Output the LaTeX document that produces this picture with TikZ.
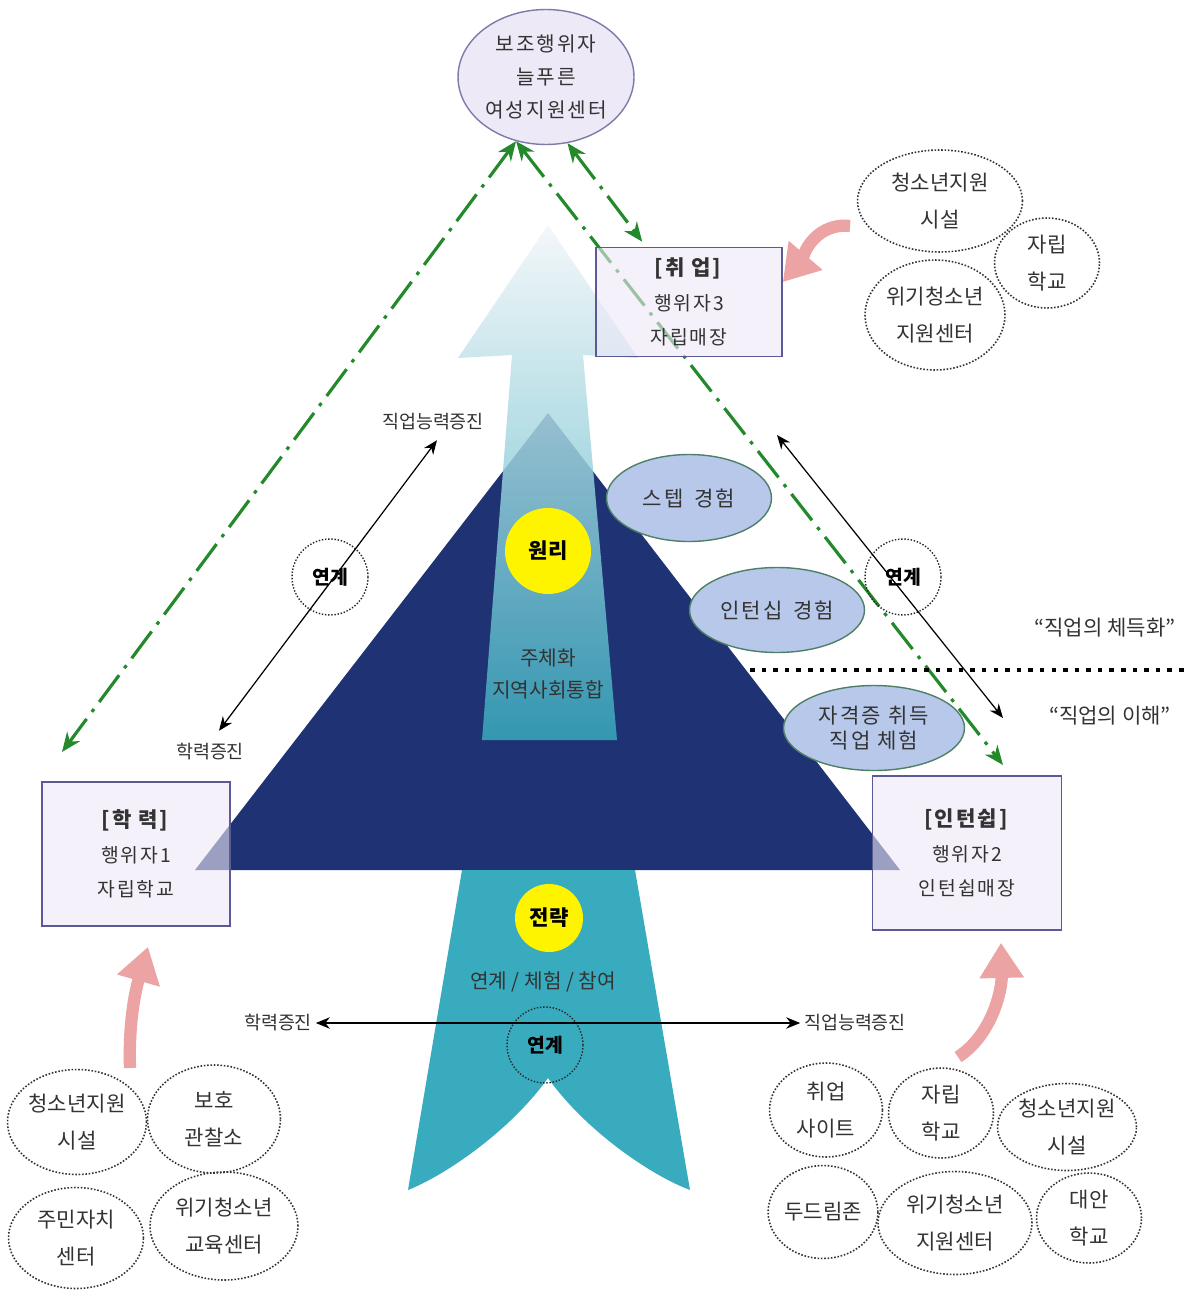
\documentclass[tikz,border=0pt]{standalone}
\usepackage{fontspec}
\setmainfont{Noto Sans CJK KR}
\newfontfamily\spaced[LetterSpace=10]{Noto Sans CJK KR}
\usetikzlibrary{arrows.meta,calc,shapes.geometric}
\definecolor{TriNavy}{HTML}{1F3374}
\definecolor{TailTeal}{HTML}{39ABBE}
\definecolor{ColTop}{HTML}{F2F6F9}
\definecolor{ColMid}{HTML}{9ACEDC}
\definecolor{BoxFill}{HTML}{EEE9F7}
\definecolor{BoxLine}{HTML}{5B5A94}
\definecolor{StepFill}{HTML}{B7C8EA}
\definecolor{StepLine}{HTML}{4E8068}
\definecolor{CoreYellow}{HTML}{FFF400}
\definecolor{LinkGreen}{HTML}{23892B}
\definecolor{PinkArrow}{HTML}{EBA3A3}
\definecolor{TextGray}{HTML}{333333}
\pgfdeclarelayer{shapes}
\pgfdeclarelayer{links}
\pgfsetlayers{shapes,links,main}
\tikzset{
  actor box/.style={
    draw=BoxLine,
    fill=BoxFill,
    fill opacity=0.6,
    text opacity=1,
    line width=0.9pt,
    align=center,
    font=\spaced\fontsize{11}{19.5}\selectfont,
    text=TextGray,
    inner sep=0pt
  },
  aux node/.style={
    ellipse,
    draw=BoxLine!80,
    fill=BoxFill,
    line width=0.8pt,
    align=center,
    font=\spaced\fontsize{11.5}{19}\selectfont,
    text=TextGray,
    inner sep=0pt,
    minimum width=3.52cm,
    minimum height=2.7cm
  },
  step node/.style={
    ellipse,
    draw=StepLine,
    fill=StepFill,
    line width=0.8pt,
    align=center,
    font=\spaced\fontsize{12}{14}\selectfont,
    text=TextGray,
    inner sep=0pt
  },
  org node/.style={
    ellipse,
    draw=black!80,
    densely dotted,
    line width=0.9pt,
    align=center,
    font=\fontsize{12}{21}\selectfont,
    text=TextGray,
    inner sep=0pt
  },
  link node/.style={
    circle,
    draw=black!85,
    densely dotted,
    line width=0.8pt,
    minimum size=1.52cm,
    inner sep=0pt,
    font=\bfseries\fontsize{11}{12}\selectfont
  },
  core node/.style={
    circle,
    fill=CoreYellow,
    inner sep=0pt,
    font=\bfseries\fontsize{12}{13}\selectfont
  },
  gain label/.style={
    font=\fontsize{10.5}{12}\selectfont,
    text=TextGray,
    inner sep=2pt
  },
  gain arrow/.style={
    {Stealth[length=8pt,width=6.5pt]}-{Stealth[length=8pt,width=6.5pt]},
    line width=0.7pt
  },
  green link/.style={
    {Stealth[length=11pt,width=9pt]}-{Stealth[length=11pt,width=9pt]},
    draw=LinkGreen,
    line width=1.8pt,
    dash pattern=on 19pt off 5pt on 2pt off 5pt
  },
  pink arrow/.style={
    -{Triangle[width=24pt,length=20pt]},
    draw=PinkArrow,
    line width=7pt
  }
}

\begin{document}
\begin{tikzpicture}[x=0.02cm, y=-0.02cm]
        \path[use as bounding box] (0,0) rectangle (1192,1291);
        \begin{pgfonlayer}{shapes}
          \fill[white] (0,0) rectangle (1192,1291);
          \fill[TriNavy] (548,413) -- (195,870) -- (900,870) -- cycle;
          \fill[TailTeal] (462,870) -- (635,870) -- (690,1190) .. controls (650,1175) and (585,1130) .. (548,1078) .. controls (511,1130) and (446,1175) .. (408,1190) -- cycle;
          \path[top color=ColTop, middle color=ColMid, bottom color=TailTeal, fill opacity=0.84] (548,225) -- (638,358) -- (583,355) -- (617,740) -- (482,740) -- (512,355) -- (458,358) -- cycle;
        \end{pgfonlayer}

        \node[aux node] (aux) at (546,77) {보조행위자\\늘푸른\\여성지원센터};
        \node[actor box, minimum width=3.72cm, minimum height=2.18cm] (job) at (689,302) {\textbf{\fontsize{12}{19.5}\selectfont [취 업]}\\행위자3\\자립매장};
        \node[actor box, minimum width=3.76cm, minimum height=2.88cm] (hak) at (136,854) {\textbf{\fontsize{12}{19.5}\selectfont [학 력]}\\행위자1\\자립학교};
        \node[actor box, minimum width=3.78cm, minimum height=3.08cm] (intern) at (967,853) {\textbf{\fontsize{12}{19.5}\selectfont [인턴쉽]}\\행위자2\\인턴쉽매장};

        \node[core node, minimum size=1.72cm] (wonri) at (548,551) {원리};
        \node[core node, minimum size=1.36cm] (junryak) at (549,918) {전략};
        \node[align=center, font=\fontsize{11.5}{18}\selectfont, text=TextGray] (subj) at (548,674) {주체화\\지역사회통합};
        \node[font=\fontsize{11.5}{13}\selectfont, text=TextGray] (mode) at (543,982) {연계 / 체험 / 참여};

        \node[step node, minimum width=3.3cm, minimum height=1.74cm] (step) at (689,498) {스텝\hspace{0.5em}경험};
        \node[step node, minimum width=3.5cm, minimum height=1.7cm] (intexp) at (777,610) {인턴십\hspace{0.5em}경험};
        \node[step node, minimum width=3.62cm, minimum height=1.7cm] (cert) at (874,728) {자격증 취득\\직업 체험};

        \node[org node, minimum width=3.3cm, minimum height=2.04cm] (tr1) at (940,201) {청소년지원\\시설};
        \node[org node, minimum width=2.1cm, minimum height=1.8cm] (tr2) at (1047,263) {자립\\학교};
        \node[org node, minimum width=2.8cm, minimum height=2.2cm] (tr3) at (935,315) {위기청소년\\지원센터};

        \node[org node, minimum width=2.78cm, minimum height=2.1cm] (bl1) at (77,1122) {청소년지원\\시설};
        \node[org node, minimum width=2.66cm, minimum height=2.16cm] (bl2) at (214,1119) {보호\\관찰소};
        \node[org node, minimum width=2.7cm, minimum height=2.02cm] (bl3) at (76,1238) {주민자치\\센터};
        \node[org node, minimum width=2.96cm, minimum height=2.16cm] (bl4) at (224,1226) {위기청소년\\교육센터};

        \node[org node, minimum width=2.26cm, minimum height=1.88cm] (br1) at (826,1110) {취업\\사이트};
        \node[org node, minimum width=2.1cm, minimum height=1.8cm] (br2) at (941,1113) {자립\\학교};
        \node[org node, minimum width=2.78cm, minimum height=1.74cm] (br3) at (1067,1127) {청소년지원\\시설};
        \node[org node, minimum width=2.14cm, minimum height=1.86cm] (br4) at (823,1212) {두드림존};
        \node[org node, minimum width=3.08cm, minimum height=2.06cm] (br5) at (955,1223) {위기청소년\\지원센터};
        \node[org node, minimum width=2.1cm, minimum height=1.8cm] (br6) at (1089,1218) {대안\\학교};

        \node[link node] (lk1) at (330,577) {연계};
        \node[link node] (lk2) at (903,577) {연계};
        \node[link node] (lk3) at (545,1045) {연계};

        \node[gain label] (edu1) at (210,752) {학력증진};
        \node[gain label] (job1) at (433,422) {직업능력증진};
        \node[gain label] (edu2) at (278,1023) {학력증진};
        \node[gain label] (job2) at (855,1023) {직업능력증진};
        \node[font=\fontsize{12}{14}\selectfont, text=TextGray] (deep) at (1105,628) {“직업의 체득화”};
        \node[font=\fontsize{12}{14}\selectfont, text=TextGray] (under) at (1110,716) {“직업의 이해”};

        \coordinate (g1) at (62,752);
        \coordinate (g2) at (1003,765);
        \coordinate (rt1) at (777,435);
        \coordinate (rt2) at (1003,718);
        \coordinate (sepL) at (750,670);
        \coordinate (sepR) at (1185,670);
        \coordinate (pk1) at (850,226);
        \coordinate (pk2) at (130,1068);
        \coordinate (pk3) at (958,1057);

        \begin{pgfonlayer}{links}
          \draw[green link] (aux.245) -- (g1);
          \draw[green link] (aux.245) -- (g2);
          \draw[green link] (aux.288) -- ($(job.north west)+(47,-5)$);
        \end{pgfonlayer}

        \draw[gain arrow] ($(edu1.north)+(9,-9)$) -- ($(job1.south)+(4,6)$);
        \draw[gain arrow] (rt1) -- (rt2);
        \draw[gain arrow] (edu2.east) -- (job2.west);
        \draw[line width=2.6pt, dash pattern=on 2.6pt off 4pt] (sepL) -- (sepR);

        \draw[pink arrow] (pk1) .. controls (812,222) and (800,262) .. (job.12);
        \draw[pink arrow] (pk2) .. controls (128,1010) and (140,975) .. ($(hak.south)+(12,20)$);
        \draw[pink arrow] (pk3) .. controls (992,1035) and (1002,990) .. ($(intern.south)+(34,12)$);
      \end{tikzpicture}
\end{document}
